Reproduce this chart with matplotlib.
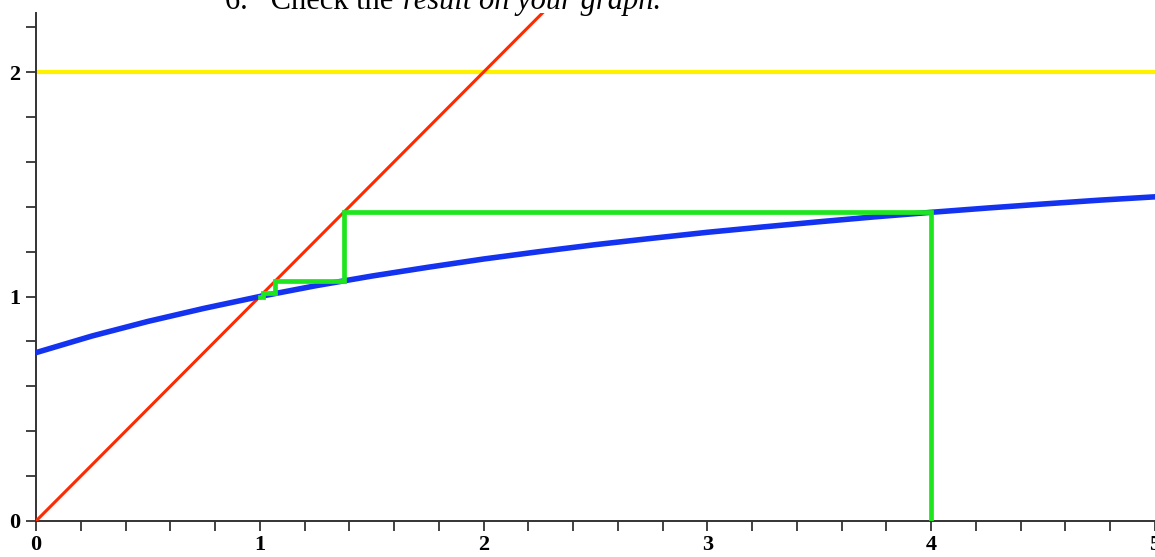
import matplotlib.pyplot as plt
import numpy as np

# blue curve, values
curve_x = [0, 0.25, 0.5, 0.75, 1.0, 1.25, 1.5, 1.75, 2.0, 2.25, 2.5,
           2.75, 3.0, 3.25, 3.5, 3.75, 4.0, 4.25, 4.5, 4.75, 5.0]
curve_y = [0.75, 0.824, 0.889, 0.947, 1.0, 1.048, 1.091, 1.130, 1.167, 1.2, 1.231,
           1.259, 1.286, 1.310, 1.333, 1.355, 1.375, 1.394, 1.412, 1.429, 1.444]

# red line y = x
line_x = [0, 5]
line_y = [0, 5]

# yellow asymptote
asym_y = 2

# green cobweb path
web_x = [4, 4, 1.375, 1.375, 1.07, 1.07, 1.015, 1.015, 1.0]
web_y = [0, 1.375, 1.375, 1.07, 1.07, 1.015, 1.015, 1.0, 1.0]

W, H = 1155, 557
fig = plt.figure(figsize=(W / 100, H / 100), dpi=100)
ax = fig.add_axes([36 / W, (H - 521) / H, 1 - 36 / W, (521 - 13) / H])

ax.axhline(asym_y, color='#fff200', lw=3.0, zorder=2)
ax.plot(line_x, line_y, color='#ff2a00', lw=2.2, zorder=3)
ax.plot(curve_x, curve_y, color='#1433f0', lw=4.0, zorder=4)
ax.plot(web_x, web_y, color='#1ee61e', lw=3.4, zorder=5, solid_joinstyle='miter')

ax.set_xlim(0, 5)
ax.set_ylim(0, (521 - 13) / 224.5)

ax.spines['top'].set_visible(False)
ax.spines['right'].set_visible(False)
for s in ['left', 'bottom']:
    ax.spines[s].set_linewidth(1.4)
    ax.spines[s].set_color('#333333')

ax.set_xticks(np.arange(0, 5.01, 1))
ax.set_xticks(np.arange(0, 5.01, 0.2), minor=True)
ax.set_yticks([0, 1, 2])
ax.set_yticks(np.arange(0, 2.3, 0.2), minor=True)
ax.tick_params(which='both', direction='out', length=7, width=1.2, color='#222222')
ax.tick_params(axis='x', which='major', pad=3)
ax.tick_params(axis='y', which='major', pad=4)
for lab in ax.get_xticklabels() + ax.get_yticklabels():
    lab.set_fontweight('bold')
    lab.set_fontsize(16)
    lab.set_family('Liberation Serif')

# heading text cut off at the top
fig.text(225 / W, (H - 9) / H, '6.   Check the', fontsize=22,
         family='Liberation Serif', va='baseline', ha='left')
fig.text(403 / W, (H - 9) / H, 'result on your graph.', fontsize=22,
         family='Liberation Serif', style='italic', va='baseline', ha='left')

fig.savefig('out.png', dpi=100)
